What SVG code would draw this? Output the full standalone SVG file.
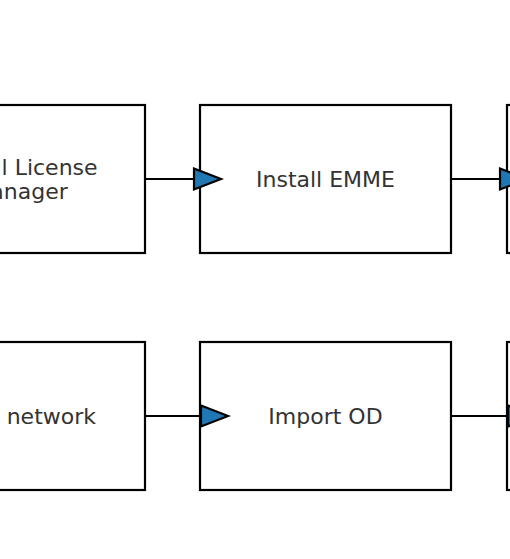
<svg xmlns="http://www.w3.org/2000/svg" width="510" height="559" viewBox="0 0 510 559">
<style>
.box{fill:#fff;stroke:#000;stroke-width:2.2}
.lbl{font-family:"DejaVu Sans",sans-serif;font-size:22px;fill:#333;text-anchor:middle;dominant-baseline:central}
.edge{stroke:#000;stroke-width:2.2;fill:none}
.head{fill:#1f77b4;stroke:#000;stroke-width:2.2;stroke-linejoin:miter}
</style>
<rect x="0" y="0" width="510" height="559" fill="#fff"/>
<g id="node-license">
<rect class="box" x="-106" y="105" width="251" height="148"/>
<text class="lbl" x="19.5" y="167">Install License</text>
<text class="lbl" x="19.5" y="191">Manager</text>
</g>
<g id="node-emme">
<rect class="box" x="200" y="105" width="251" height="148"/>
<text class="lbl" x="325.5" y="179">Install EMME</text>
</g>
<g id="node-top-right">
<rect class="box" x="507" y="105" width="251" height="148"/>
</g>
<g id="node-network">
<rect class="box" x="-106" y="342" width="251" height="148"/>
<text class="lbl" x="96" y="416" style="text-anchor:end">network</text>
</g>
<g id="node-od">
<rect class="box" x="200" y="342" width="251" height="148"/>
<text class="lbl" x="325.5" y="416">Import OD</text>
</g>
<g id="node-bottom-right">
<rect class="box" x="507" y="342" width="251" height="148"/>
</g>
<g id="connectors">
<line class="edge" x1="145" y1="179" x2="194" y2="179"/>
<polygon class="head" points="194,168.5 221,179 194,189.5"/>
<line class="edge" x1="451" y1="179" x2="500" y2="179"/>
<polygon class="head" points="500,168.5 527,179 500,189.5"/>
<line class="edge" x1="145" y1="416" x2="201" y2="416"/>
<polygon class="head" points="201,405.5 228,416 201,426.5"/>
<line class="edge" x1="451" y1="416" x2="508" y2="416"/>
<polygon class="head" points="508,405.5 535,416 508,426.5"/>
</g>
</svg>
